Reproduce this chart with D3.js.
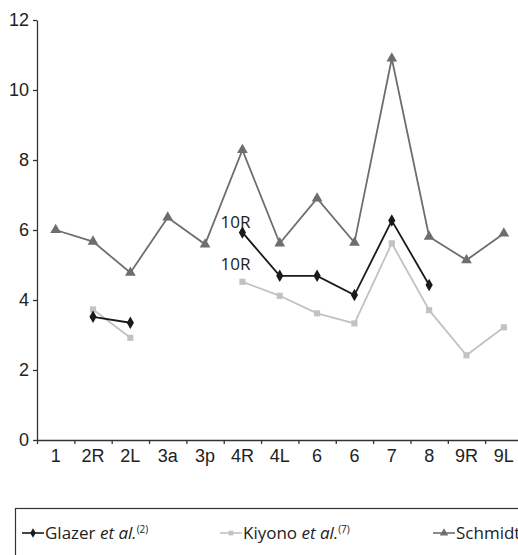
<!DOCTYPE html>
<html>
<head>
<meta charset="utf-8">
<script src="https://cdn.jsdelivr.net/npm/d3@7"></script>
<style>
  body { margin: 0; background: #fff; }
  svg { display: block; font-family: "Open Sans", sans-serif; }
</style>
</head>
<body>
<div id="chart"></div>
<script>
var categories = ["1", "2R", "2L", "3a", "3p", "4R", "4L", "6", "6", "7", "8", "9R", "9L"];
var glazer  = [null, 3.52, 3.35, null, null, 5.93, 4.69, 4.69, 4.14, 6.27, 4.43, null, null];
var kiyono  = [null, 3.73, 2.92, null, null, 4.52, 4.12, 3.62, 3.33, 5.62, 3.71, 2.42, 3.22];
var schmidt = [6.0, 5.67, 4.78, 6.36, 5.59, 8.29, 5.62, 6.9, 5.64, 10.9, 5.81, 5.14, 5.9];
var yTicks  = [0, 2, 4, 6, 8, 10, 12];

var width = 518, height = 555;
var margin = {top: 20, left: 37};
var plotW = 485.5, plotH = 420;

var svg = d3.select("#chart").append("svg")
    .attr("width", width)
    .attr("height", height);

var idx = d3.range(categories.length);

var x = d3.scaleBand()
    .domain(idx)
    .range([margin.left, margin.left + plotW]);

var xTick = d3.scaleLinear()
    .domain([0, categories.length])
    .range([margin.left, margin.left + plotW]);

var y = d3.scaleLinear()
    .domain([0, 12])
    .range([margin.top + plotH, margin.top]);

// y axis
var yAxis = svg.append("g")
    .attr("transform", "translate(" + margin.left + ",0)")
    .call(d3.axisLeft(y).tickValues(yTicks).tickSize(4).tickSizeOuter(0).tickPadding(4));

// x axis labels (centred on bands), ticks at band edges
var xAxis = svg.append("g")
    .attr("transform", "translate(0," + (margin.top + plotH) + ")")
    .call(d3.axisBottom(x).tickSize(0).tickPadding(9)
      .tickFormat(function(d) { return categories[d]; }));
xAxis.select(".domain").remove();

svg.append("g")
    .attr("transform", "translate(0," + (margin.top + plotH) + ")")
    .call(d3.axisBottom(xTick).tickValues(d3.range(0, categories.length + 1))
      .tickSize(4).tickSizeOuter(0).tickFormat(""));

svg.selectAll(".domain, .tick line").attr("stroke", "#333").attr("stroke-width", 1.3);
svg.selectAll(".tick text").attr("fill", "#222").style("font-size", "18px");

var series = [
  {name: "Glazer",  values: glazer,  color: "#1a1a1a", marker: "diamond"},
  {name: "Kiyono",  values: kiyono,  color: "#c2c2c2", marker: "square"},
  {name: "Schmidt", values: schmidt, color: "#6e6e6e", marker: "triangle"}
];

var symbolType = {
  diamond:  {type: d3.symbolDiamond,  size: 45},
  square:   {type: d3.symbolSquare,   size: 38},
  triangle: {type: d3.symbolTriangle, size: 50}
};

var line = d3.line()
    .defined(function(d) { return d.v != null; })
    .x(function(d) { return x(d.i) + x.bandwidth() / 2; })
    .y(function(d) { return y(d.v); });

// draw order: schmidt, kiyono, glazer
series.slice().reverse().forEach(function(s) {
  var pts = s.values.map(function(v, i) { return {i: i, v: v}; });
  svg.append("path")
      .datum(pts)
      .attr("fill", "none")
      .attr("stroke", s.color)
      .attr("stroke-width", 1.8)
      .attr("d", line);

  svg.append("g").selectAll("path")
      .data(pts.filter(function(d) { return d.v != null; }))
    .enter().append("path")
      .attr("transform", function(d) {
        return "translate(" + (x(d.i) + x.bandwidth() / 2) + "," + y(d.v) + ")";
      })
      .attr("d", d3.symbol().type(symbolType[s.marker].type).size(symbolType[s.marker].size))
      .attr("fill", s.color);
});

// "10R" annotations at the 4R points
var i4R = 5;
svg.append("text")
    .attr("x", x(i4R) + x.bandwidth() / 2 + 8)
    .attr("y", y(glazer[i4R]) - 4)
    .attr("text-anchor", "end")
    .style("font-size", "17px")
    .attr("fill", "#222")
    .text("10R");
svg.append("text")
    .attr("x", x(i4R) + x.bandwidth() / 2 + 8)
    .attr("y", y(kiyono[i4R]) - 12)
    .attr("text-anchor", "end")
    .style("font-size", "17px")
    .attr("fill", "#222")
    .text("10R");

// legend
var legend = svg.append("g");
legend.append("rect")
    .attr("x", 15.5).attr("y", 508.5)
    .attr("width", 520).attr("height", 70)
    .attr("fill", "none")
    .attr("stroke", "#333")
    .attr("stroke-width", 1.2);

var legendItems = [
  {s: series[0], x: 22, refs: "(2)", main: "Glazer "},
  {s: series[1], x: 220, refs: "(7)", main: "Kiyono "},
  {s: series[2], x: 433, refs: "", main: "Schmidt"}
];

legendItems.forEach(function(it) {
  var g = legend.append("g").attr("transform", "translate(" + it.x + ",533)");
  g.append("line").attr("x1", 0).attr("x2", 22)
      .attr("stroke", it.s.color).attr("stroke-width", 1.6);
  g.append("path")
      .attr("transform", "translate(11,0)")
      .attr("d", d3.symbol().type(symbolType[it.s.marker].type).size(symbolType[it.s.marker].size * 0.6))
      .attr("fill", it.s.color);
  var t = g.append("text").attr("x", 23).attr("y", 6)
      .style("font-size", "17px").attr("fill", "#222");
  t.append("tspan").text(it.main);
  if (it.refs) {
    t.append("tspan").style("font-style", "italic").text("et al.");
    t.append("tspan").attr("dy", -6).style("font-size", "10px").text(it.refs);
  }
});
</script>
</body>
</html>
